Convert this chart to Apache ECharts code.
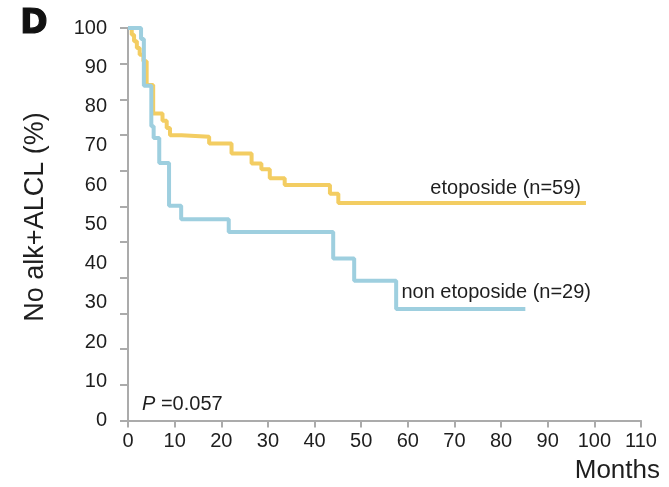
<!DOCTYPE html>
<html>
<head>
<meta charset="utf-8">
<script src="https://cdn.jsdelivr.net/npm/echarts@6/dist/echarts.min.js"></script>
<style>
html,body{margin:0;padding:0;background:#fff;}
#c{width:669px;height:487px;}
</style>
</head>
<body>
<div id="c"></div>
<script>
// Kaplan-Meier estimates
var etoTimes  = [0, 0.8, 1.3, 1.9, 2.5, 3.3, 4.0, 5.4, 7.4, 8.3, 9.0, 11.5, 17.4, 22.2, 26.5, 28.6, 30.4, 33.6, 43.3, 45.1, 98.2];
var etoValues = [100, 98.3, 96.6, 94.9, 93.2, 91.5, 85.5, 78.2, 76.4, 74.5, 72.7, 72.3, 70.6, 68.0, 65.5, 64.0, 61.7, 60.0, 57.8, 55.4, 55.4];
var nonTimes  = [0, 2.8, 3.4, 5.0, 5.5, 6.7, 8.8, 11.4, 21.6, 44.0, 48.5, 57.5, 85.2];
var nonValues = [100, 97.2, 85.3, 75.0, 72.0, 65.6, 54.7, 51.3, 48.0, 41.3, 35.6, 28.4, 28.4];
var xTicks = [0, 110, 10];      // min, max, interval (months)
var yTicks = [0, 100, 10];      // min, max, interval (%)
var etoLabel = 'etoposide (n=59)';
var nonLabel = 'non etoposide (n=29)';
var pText = '=0.057';

function pairs(t, v) { return t.map(function (x, i) { return [x, v[i]]; }); }

var FONT = "'Liberation Sans', Arial, Helvetica, sans-serif";
var TXT = '#1e1e1e';
var AX = '#ababab';

var chart = echarts.init(document.getElementById('c'), null, {renderer: 'canvas'});
chart.setOption({
  animation: false,
  backgroundColor: '#fff',
  grid: {left: 128, right: 28, top: 28, bottom: 66.5},
  xAxis: {
    type: 'value', min: xTicks[0], max: xTicks[1], interval: xTicks[2],
    axisLine: {show: true, lineStyle: {color: AX, width: 2}},
    axisTick: {show: true, length: 7, lineStyle: {color: AX, width: 2}},
    axisLabel: {fontSize: 20, color: TXT, fontFamily: FONT, margin: 11},
    splitLine: {show: false}
  },
  yAxis: [{
    type: 'value', min: yTicks[0], max: yTicks[1], interval: yTicks[2],
    axisLine: {show: true, lineStyle: {color: AX, width: 2}},
    axisTick: {show: false},
    axisLabel: {fontSize: 20, color: TXT, fontFamily: FONT, margin: 21},
    splitLine: {show: false}
  }, {
    type: 'value', position: 'left', min: 0, max: 110, interval: 10,
    axisLine: {show: false},
    axisTick: {show: true, length: 8, lineStyle: {color: AX, width: 2}},
    axisLabel: {show: false},
    splitLine: {show: false}
  }],
  series: [{
    name: etoLabel, type: 'line', step: 'end', yAxisIndex: 0,
    data: pairs(etoTimes, etoValues), showSymbol: false, clip: false,
    lineStyle: {color: '#f3cd62', width: 4}, z: 2
  }, {
    name: nonLabel, type: 'line', step: 'end', yAxisIndex: 0,
    data: pairs(nonTimes, nonValues), showSymbol: false, clip: false,
    lineStyle: {color: '#9ecfdf', width: 4}, z: 3
  }],
  graphic: [
    {type: 'text', x: 34, y: 24,
     style: {text: 'D', font: "bold 33px 'DejaVu Sans', " + FONT, fill: '#111', stroke: '#111', lineWidth: 1.2,
       align: 'center', verticalAlign: 'middle'}},
    {type: 'text', x: 36, y: 217, rotation: Math.PI / 2,
     style: {text: 'No alk+ALCL (%)', font: "27px " + FONT, fill: TXT, align: 'center', verticalAlign: 'middle'}},
    {type: 'text', x: 660, y: 471,
     style: {text: 'Months', font: "26px " + FONT, fill: TXT, align: 'right', verticalAlign: 'middle'}},
    {type: 'text', x: 581, y: 188,
     style: {text: etoLabel, font: "20px " + FONT, fill: TXT, align: 'right', verticalAlign: 'middle'}},
    {type: 'text', x: 591, y: 292,
     style: {text: nonLabel, font: "20px " + FONT, fill: TXT, align: 'right', verticalAlign: 'middle'}},
    {type: 'text', x: 142, y: 404,
     style: {text: '{i|P} ' + pText, font: "20px " + FONT, fill: TXT, verticalAlign: 'middle',
       rich: {i: {fontStyle: 'italic', fontSize: 20, fontFamily: FONT, fill: TXT}}}}
  ]
});
</script>
</body>
</html>
